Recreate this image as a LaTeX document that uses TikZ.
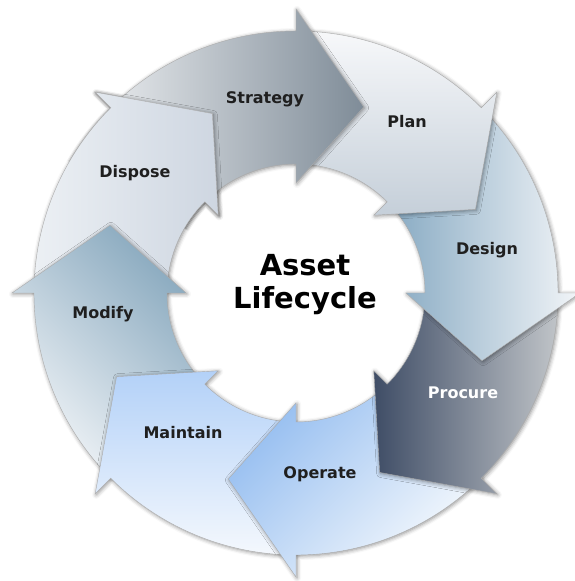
\documentclass[tikz,border=0pt]{standalone}
\usepackage{fontspec}
\setmainfont{DejaVu Sans}
\usetikzlibrary{shadows.blur}
\definecolor{strA}{HTML}{E4E7EA}
\definecolor{strB}{HTML}{7F8C98}
\definecolor{plnA}{HTML}{F7F8FA}
\definecolor{plnB}{HTML}{C5CFD9}
\definecolor{dsgA}{HTML}{86A9C2}
\definecolor{dsgB}{HTML}{F2F5F8}
\definecolor{prcA}{HTML}{3F4D66}
\definecolor{prcB}{HTML}{C0C4C8}
\definecolor{oprA}{HTML}{94BDF0}
\definecolor{oprB}{HTML}{F7FAFD}
\definecolor{mntA}{HTML}{B3D1F8}
\definecolor{mntB}{HTML}{F4F8FD}
\definecolor{mdfA}{HTML}{86A7BD}
\definecolor{mdfB}{HTML}{F2F5F8}
\definecolor{dspA}{HTML}{ECF0F4}
\definecolor{dspB}{HTML}{CED6E1}

\begin{document}
\begin{tikzpicture}[x=1pt, y=1pt,
    % ring segment with its head, #1 = angle of the tail
    ringseg/.style={insert path={(#1:262) arc[start angle=#1, end angle=#1-45, radius=262]
      -- (#1-45:284) -- (#1-65:198) -- (#1-45:110) -- (#1-45:129)
      arc[start angle=#1-45, end angle=#1, radius=129] -- cycle}},
    shade/.style={blur shadow={shadow xshift=1pt, shadow yshift=-1pt,
        shadow blur radius=4pt, shadow opacity=45}},
    seg/.style={draw=gray!65, line width=0.4pt},
    dsp/.style={left color=dspA, right color=dspB},
    lbl/.style={font=\bfseries\fontsize{16}{19}\selectfont, text=black!88}]
\useasboundingbox (0,0) rectangle (574,581);
\begin{scope}[shift={(296,288)}]
  \path[seg, shade, dsp, ringseg=180];  % Dispose
  \path[seg, shade, top color=mdfA, bottom color=mdfB, shading angle=-45, ringseg=225]; % Modify
  \path[seg, shade, top color=mntA, bottom color=mntB, ringseg=270];  % Maintain
  \path[seg, shade, top color=oprA, bottom color=oprB, shading angle=45, ringseg=315]; % Operate
  \path[seg, shade, left color=prcA, right color=prcB, ringseg=0];    % Procure
  \path[seg, shade, left color=dsgA, right color=dsgB, ringseg=45];   % Design
  \path[seg, shade, top color=plnA, bottom color=plnB, ringseg=90];   % Plan
  \path[seg, shade, left color=strA, right color=strB, ringseg=135];  % Strategy
  % head of Dispose again, over the tail of Strategy
  \begin{scope}
    \clip (0,0) -- (150:330) arc[start angle=150, end angle=100, radius=330] -- cycle;
    \begin{scope}[even odd rule]
      \clip (-320,-320) rectangle (320,320) [ringseg=180];
      \path[shade, ringseg=180];
    \end{scope}
    \path[seg, dsp, ringseg=180];
  \end{scope}
\end{scope}

\node[lbl] (strategy) at (265,482) {Strategy};
\node[lbl] (plan) at (407,459) {Plan};
\node[lbl] (design) at (487,331) {Design};
\node[lbl, text=white] (procure) at (463,188) {Procure};
\node[lbl] (operate) at (320,107) {Operate};
\node[lbl] (maintain) at (183,148) {Maintain};
\node[lbl] (modify) at (103,267) {Modify};
\node[lbl] (dispose) at (135,408) {Dispose};
\node[font=\bfseries\fontsize{29}{33}\selectfont, align=center] (title) at (305,296) {Asset\\Lifecycle};
\end{tikzpicture}
\end{document}
